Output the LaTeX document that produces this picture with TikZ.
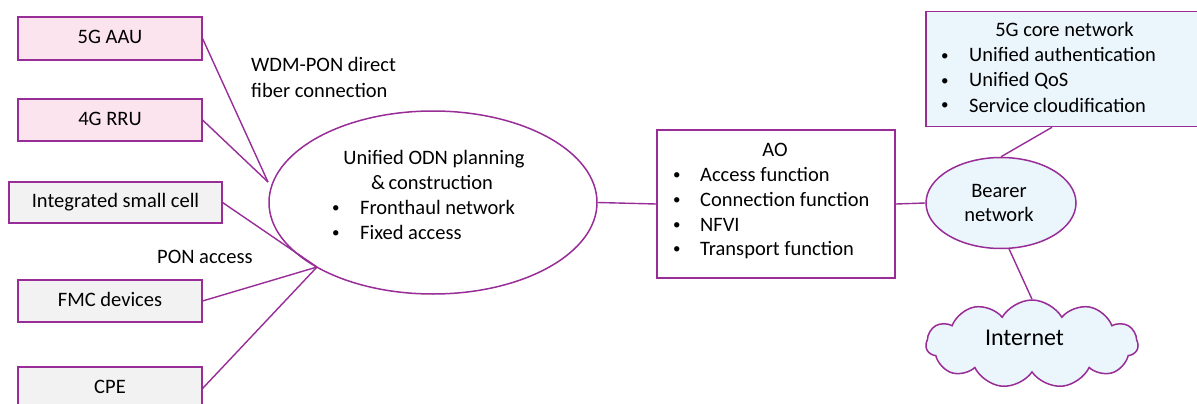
\documentclass[tikz,border=0pt]{standalone}
\usepackage{fontspec}
\setmainfont{Carlito}
\usetikzlibrary{shapes.geometric,shapes.symbols}
\definecolor{edge}{RGB}{152,45,152}
\definecolor{pinkfill}{RGB}{252,228,238}
\definecolor{grayfill}{RGB}{242,242,242}
\definecolor{bluefill}{RGB}{234,245,252}
\newcommand{\dotmark}{{\fontsize{15}{15}\selectfont\textbullet}}
\begin{document}
\begin{tikzpicture}[x=1pt,y=-1pt,
  font=\fontsize{20.5}{25}\selectfont,
  box/.style={draw=edge, line width=1.6pt, rectangle, inner sep=0pt,
    text height=14pt, text depth=4pt},
  unit/.style={box, minimum width=183.5pt, minimum height=42.5pt},
  link/.style={draw=edge, line width=1.4pt},
  txt/.style={inner sep=0pt, anchor=base},
  txtw/.style={inner sep=0pt, anchor=base west},
]
\useasboundingbox (0,0) rectangle (1197,404);

% access-side devices
\node[unit, fill=pinkfill] (aau) at (110,38.5) {5G AAU};
\node[unit, fill=pinkfill] (rru) at (110,120) {4G RRU};
\node[box, fill=grayfill, minimum width=212.5pt, minimum height=41.5pt] (isc) at (115.5,202.5) {Integrated small cell};
\node[unit, fill=grayfill] (fmc) at (110,301) {FMC devices};
\node[unit, fill=grayfill] (cpe) at (110,388.5) {CPE};

% ODN
\node[draw=edge, line width=1.5pt, ellipse, minimum width=328pt, minimum height=183pt, inner sep=0pt] (odn) at (433,202.5) {};
\node[txt] (odnt1) at (434,164) {Unified ODN planning};
\node[txt] (odnt2) at (432,189) {\&\,construction};
\node[txtw] (odnb1) at (332,212) {\dotmark};
\node[txtw] (odnt3) at (360,214) {Fronthaul network};
\node[txtw] (odnb2) at (332,237) {\dotmark};
\node[txtw] (odnt4) at (360,239) {Fixed access};

% AO
\node[box, fill=white, minimum width=238pt, minimum height=148pt] (ao) at (776,204) {};
\node[txt] (aot) at (775,156) {AO};
\node[txtw] (aob1) at (673,179) {\dotmark};
\node[txtw] (aot1) at (700,181) {Access function};
\node[txtw] (aob2) at (673,204) {\dotmark};
\node[txtw] (aot2) at (700,206) {Connection function};
\node[txtw] (aob3) at (673,229) {\dotmark};
\node[txtw] (aot3) at (700,231) {NFVI};
\node[txtw] (aob4) at (673,253) {\dotmark};
\node[txtw] (aot4) at (700,255) {Transport function};

% 5G core
\node[box, fill=bluefill, minimum width=279pt, minimum height=115pt] (core) at (1065.5,69) {};
\node[txt] (coret) at (1064.5,37) {5G core network};
\node[txtw] (coreb1) at (941,60) {\dotmark};
\node[txtw] (coret1) at (969,62) {Unified authentication};
\node[txtw] (coreb2) at (941,85) {\dotmark};
\node[txtw] (coret2) at (969,87) {Unified QoS};
\node[txtw] (coreb3) at (941,110) {\dotmark};
\node[txtw] (coret3) at (969,112) {Service cloudification};

% bearer network
\node[draw=edge, line width=1.5pt, fill=bluefill, ellipse, minimum width=150pt, minimum height=91pt, inner sep=0pt] (bear) at (1001,203) {};
\node[txt] (beart1) at (999,197) {Bearer};
\node[txt] (beart2) at (999,221) {network};

% internet
\node[cloud, draw=edge, fill=bluefill, line width=1.5pt, cloud puffs=11, cloud puff arc=120, aspect=2.4,
  minimum width=212pt, minimum height=88pt, inner sep=0pt] (inet) at (1032,344) {};
\node[txt, font=\fontsize{24}{28}\selectfont] (inett) at (1024.5,345) {Internet};

% labels
\node[txtw] (wdm1) at (251,72) {WDM-PON direct};
\node[txtw] (wdm2) at (251,97) {fiber connection};
\node[txtw] (pon) at (157,263) {PON access};

% connectors
\coordinate (j1) at (268,182);
\coordinate (j2) at (317,267);
\draw[link] (aau.east) -- (j1);
\draw[link] (rru.east) -- (j1);
\draw[link] (isc.east) -- (j2);
\draw[link] (fmc.east) -- (j2);
\draw[link] (cpe.east) -- (j2);
\draw[link] (odn.east) -- (ao.west);
\draw[link] (ao.east) -- (bear.west);
\draw[link] ([xshift=-13.5pt]core.south) -- (bear.north);
\draw[link] (bear.-80) -- (inet.north);
\end{tikzpicture}
\end{document}
